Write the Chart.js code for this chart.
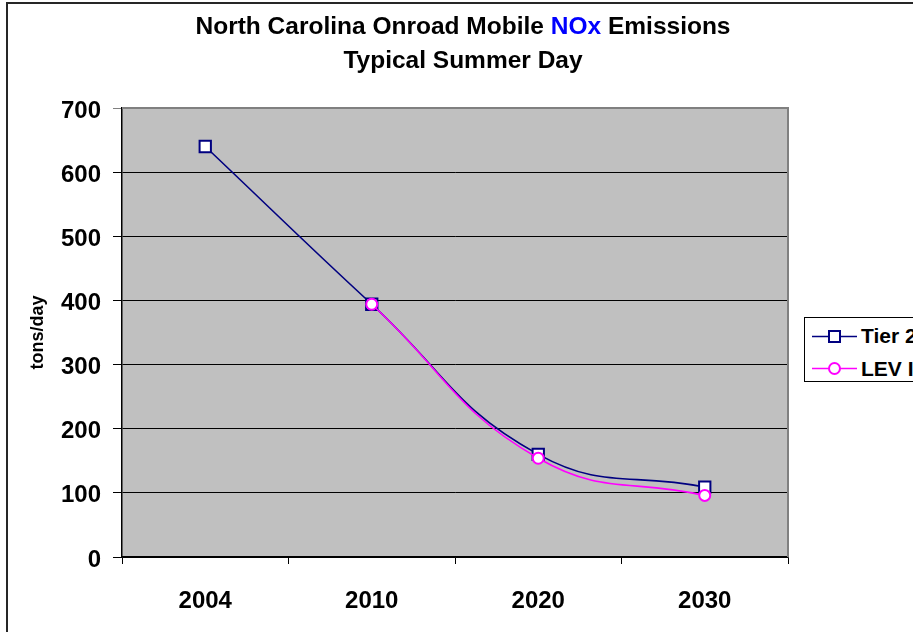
<!DOCTYPE html>
<html>
<head>
<meta charset="utf-8">
<script src="https://cdn.jsdelivr.net/npm/chart.js@4.4.1/dist/chart.umd.min.js"></script>
<style>
  html, body { margin: 0; padding: 0; background: #fff; overflow: hidden; width: 913px; height: 632px; }
  #frame { position: absolute; left: 6px; top: 2px; width: 1000px; height: 700px; border: 2px solid #262626; box-sizing: border-box; }
  #chartBox { position: absolute; left: 0; top: 0; width: 1000px; height: 660px; }
  #title { position: absolute; left: 163px; width: 600px; top: 9px; text-align: center;
           font: bold 24.5px Arial, "Liberation Sans", sans-serif; line-height: 34px; color: #000; }
  #title .hl { color: #0000FF; }
  #legend { position: absolute; left: 804px; top: 317px; width: 160px; height: 65px; box-sizing: border-box;
            border: 1px solid #000; background: #fff; font: bold 21px Arial, "Liberation Sans", sans-serif; }
  #legend .row { position: absolute; left: 7px; height: 24px; display: flex; align-items: center; white-space: nowrap; }
  #legend svg { display: block; margin-right: 4px; }
</style>
</head>
<body>
<div id="frame"></div>
<div id="chartBox"><canvas id="c" width="1000" height="660"></canvas></div>
<div id="title">North Carolina Onroad Mobile <span class="hl">NOx</span> Emissions<br>Typical Summer Day</div>
<div id="legend"></div>
<script>
// Calendar years on the category axis
const years = ['2004', '2010', '2020', '2030'];
// Onroad mobile NOx, tons per typical summer day
const tier2 = [640, 394, 160, 109];
const levII = [null, 394, 154, 96];
// Value axis ticks
const yTicks = [0, 100, 200, 300, 400, 500, 600, 700];

const FONT = 'Arial, "Liberation Sans", sans-serif';

const series = [
  { label: 'Tier 2', data: tier2, color: '#000080', style: 'rect', radius: 8, order: 1 },
  { label: 'LEV II', data: levII, color: '#FF00FF', style: 'circle', radius: 5.5, order: 0 }
];

// Grey plot area with a darker grey frame on the top and right
const plotArea = {
  id: 'plotArea',
  beforeDraw(chart) {
    const { ctx, chartArea: a } = chart;
    ctx.save();
    ctx.fillStyle = '#C0C0C0';
    ctx.fillRect(a.left, a.top, a.right - a.left, a.bottom - a.top);
    ctx.restore();
  },
  beforeDatasetsDraw(chart) {
    const { ctx, chartArea: a } = chart;
    ctx.save();
    ctx.strokeStyle = '#808080';
    ctx.lineWidth = 2;
    ctx.beginPath();
    ctx.moveTo(a.left, a.top);
    ctx.lineTo(a.right, a.top);
    ctx.lineTo(a.right, a.bottom);
    ctx.stroke();
    ctx.restore();
  }
};

const chart = new Chart(document.getElementById('c'), {
  type: 'line',
  data: {
    labels: years,
    datasets: series.map(s => ({
      label: s.label,
      data: s.data,
      borderColor: s.color,
      borderWidth: 1.6,
      backgroundColor: '#FFFFFF',
      pointStyle: s.style,
      pointRadius: s.radius,
      pointBorderWidth: 2,
      pointBorderColor: s.color,
      pointBackgroundColor: '#FFFFFF',
      tension: 0.45,
      spanGaps: false,
      order: s.order
    }))
  },
  options: {
    responsive: false,
    animation: false,
    devicePixelRatio: 1,
    layout: { padding: { top: 108, right: 212, bottom: 0, left: 0 } },
    plugins: { legend: { display: false }, tooltip: { enabled: false }, title: { display: false } },
    scales: {
      x: {
        type: 'category',
        offset: true,
        afterFit(scale) { scale.height = 103; },
        grid: { display: true, offset: true, drawOnChartArea: false, drawTicks: true, tickLength: 7, color: '#000', lineWidth: 1 },
        border: { display: true, color: '#000', width: 1.5 },
        ticks: { color: '#000', font: { family: FONT, size: 24, weight: 'bold' }, padding: 23, maxRotation: 0 }
      },
      y: {
        min: yTicks[0],
        max: yTicks[yTicks.length - 1],
        afterFit(scale) { scale.width = 122; },
        afterBuildTicks(scale) { scale.ticks = yTicks.map(v => ({ value: v })); },
        grid: {
          color: ctx => (ctx.tick && ctx.tick.value === 700 ? '#808080' : '#000'),
          lineWidth: 1, tickLength: 9, drawTicks: true
        },
        border: { display: true, color: '#000', width: 1.5 },
        ticks: { color: '#000', font: { family: FONT, size: 24, weight: 'bold' }, padding: 12, labelOffset: 3 },
        title: { display: true, text: 'tons/day', color: '#000', font: { family: FONT, size: 18, weight: 'bold' }, padding: { top: 27, bottom: 0 } }
      }
    }
  },
  plugins: [plotArea]
});

// Legend built from the dataset styles
const legend = document.getElementById('legend');
series.forEach((s, i) => {
  const row = document.createElement('div');
  row.className = 'row';
  row.style.top = (6 + i * 32.5) + 'px';
  const mark = s.style === 'rect'
    ? `<rect x="17" y="3" width="11" height="11" fill="#fff" stroke="${s.color}" stroke-width="2"/>`
    : `<circle cx="22.5" cy="8.5" r="5.5" fill="#fff" stroke="${s.color}" stroke-width="2"/>`;
  row.innerHTML = `<svg width="45" height="17" viewBox="0 0 45 17"><line x1="0" y1="8.5" x2="45" y2="8.5" stroke="${s.color}" stroke-width="1.6"/>${mark}</svg><span>${s.label}</span>`;
  legend.appendChild(row);
});
</script>
</body>
</html>
